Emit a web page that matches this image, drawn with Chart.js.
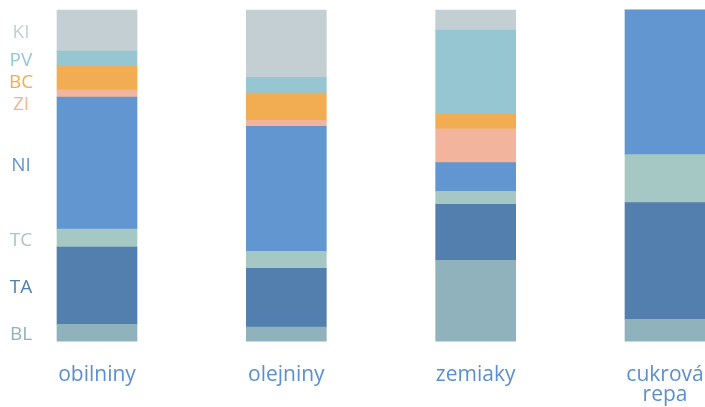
<!DOCTYPE html>
<html>
<head>
<meta charset="utf-8">
<script src="https://cdn.jsdelivr.net/npm/chart.js@4/dist/chart.umd.min.js"></script>
<style>
  html, body { margin: 0; padding: 0; background: #fff; }
  #wrap { width: 705px; height: 407px; }
</style>
</head>
<body>
<div id="wrap"><canvas id="chart"></canvas></div>
<script>
var categories = ['obilniny', 'olejniny', 'zemiaky', ['cukrová', 'repa']];

// shares in %, bottom to top
var BL = [5.1, 4.2, 24.4, 6.6];
var TA = [23.3, 17.8, 16.9, 35.2];
var TC = [5.4, 5.1, 3.9, 14.5];
var NI = [39.9, 37.8, 8.7, 43.7];
var ZI = [2.2, 1.8, 10.2, 0];
var BC = [7.3, 8.2, 4.5, 0];
var PV = [4.4, 4.8, 25.3, 0];
var KI = [12.4, 20.3, 6.1, 0];

var seriesNames = ['BL', 'TA', 'TC', 'NI', 'ZI', 'BC', 'PV', 'KI'];
var seriesData = [BL, TA, TC, NI, ZI, BC, PV, KI];
var colors = ['#90b2bc', '#527fae', '#a5c8c4', '#6196d0', '#f2b49c', '#f2ad52', '#95c6d1', '#c4cfd4'];

var datasets = [];
for (var i = 0; i < seriesNames.length; i++) {
    datasets.push({
        label: seriesNames[i],
        data: seriesData[i],
        backgroundColor: colors[i],
        borderWidth: 0,
        barThickness: 80,
        clip: false
    });
}

// series names on the left, next to the first bar's segments
var sideLabels = {
    id: 'sideLabels',
    afterDraw: function (chart) {
        var ctx = chart.ctx;
        var y = chart.scales.y;
        var base = 0;
        var pos = [];
        for (var i = 0; i < seriesData.length; i++) {
            var v = seriesData[i][0];
            pos.push(y.getPixelForValue(base + v / 2));
            base += v;
        }
        // push apart labels that would overlap (from top down)
        for (var j = pos.length - 2; j >= 0; j--) {
            if (pos[j] - pos[j + 1] < 22) pos[j] = pos[j + 1] + 22;
        }
        ctx.save();
        ctx.font = '19px "Open Sans"';
        ctx.textAlign = 'center';
        ctx.textBaseline = 'middle';
        for (var k = 0; k < pos.length; k++) {
            ctx.fillStyle = colors[k];
            ctx.fillText(seriesNames[k], 21, pos[k] + 2);
        }
        ctx.restore();
    }
};

new Chart(document.getElementById('chart'), {
    type: 'bar',
    data: { labels: categories, datasets: datasets },
    options: {
        responsive: true,
        maintainAspectRatio: false,
        animation: false,
        layout: { padding: { left: 97, right: 40, top: 10, bottom: -14 } },
        plugins: { legend: { display: false }, tooltip: { enabled: false } },
        scales: {
            x: {
                stacked: true,
                offset: false,
                grid: { display: false },
                border: { display: false },
                afterFit: function (scale) {
                    scale.paddingLeft = 0;
                    scale.paddingRight = 0;
                },
                ticks: {
                    color: '#5b8fd0',
                    font: { family: 'Open Sans', size: 21, lineHeight: 0.95 },
                    padding: 16,
                    maxRotation: 0,
                    autoSkip: false
                }
            },
            y: {
                stacked: true,
                display: false,
                min: 0,
                max: 100
            }
        }
    },
    plugins: [sideLabels]
});
</script>
</body>
</html>
